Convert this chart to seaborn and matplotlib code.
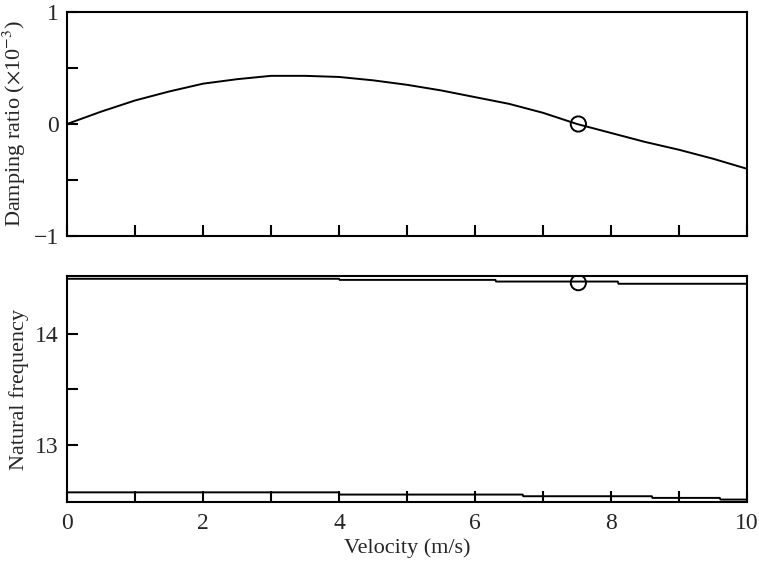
import matplotlib
matplotlib.use("Agg")
import matplotlib.pyplot as plt
import seaborn as sns
import numpy as np
import pandas as pd

# Top panel: damping ratio (x1e-3) vs velocity
vel_damp = [0, 0.5, 1, 1.5, 2, 2.5, 3, 3.5, 4, 4.5, 5, 5.5, 6, 6.5, 7, 7.5, 8, 8.5, 9, 9.5, 10]
damping = [0, 0.11, 0.21, 0.29, 0.36, 0.40, 0.43, 0.43, 0.42, 0.39, 0.35, 0.30,
           0.24, 0.18, 0.10, 0.0, -0.08, -0.16, -0.23, -0.31, -0.40]

# Bottom panel: natural frequencies vs velocity
vel_freq = [0, 4.0, 4.01, 6.3, 6.31, 8.1, 8.11, 10]
freq_upper = [14.495, 14.495, 14.485, 14.485, 14.47, 14.47, 14.45, 14.45]
vel_freq_low = [0, 4.0, 4.01, 6.7, 6.71, 8.6, 8.61, 9.6, 9.61, 10]
freq_lower = [12.57, 12.57, 12.55, 12.55, 12.535, 12.535, 12.52, 12.52, 12.505, 12.505]

# Flutter points (circles)
flutter_v = [7.52]
flutter_damp = [0.0]
flutter_freq = [14.46]

sns.set_style("ticks")
plt.rcParams["font.family"] = ["Liberation Serif", "DejaVu Serif"]
plt.rcParams["mathtext.fontset"] = "stix"
plt.rcParams["axes.linewidth"] = 1.5

fig = plt.figure(figsize=(7.59, 5.61), dpi=100)
W, H = 759, 561
ax1 = fig.add_axes([67 / W, 1 - 236 / H, 680 / W, 224 / H])
ax2 = fig.add_axes([67 / W, 1 - 502 / H, 680 / W, 226 / H])

df1 = pd.DataFrame({"v": vel_damp, "d": damping})
sns.lineplot(data=df1, x="v", y="d", ax=ax1, color="black", lw=1.4)
sns.scatterplot(x=flutter_v, y=flutter_damp, ax=ax1, s=120, facecolor="none",
                edgecolor="black", linewidth=1.4, zorder=5)

df2 = pd.DataFrame({"v": vel_freq, "f": freq_upper})
df3 = pd.DataFrame({"v": vel_freq_low, "f": freq_lower})
sns.lineplot(data=df2, x="v", y="f", ax=ax2, color="black", lw=1.4)
sns.lineplot(data=df3, x="v", y="f", ax=ax2, color="black", lw=1.4)
sns.scatterplot(x=flutter_v, y=flutter_freq, ax=ax2, s=120, facecolor="none",
                edgecolor="black", linewidth=1.4, zorder=5)

for ax in (ax1, ax2):
    ax.set_xlim(0, 10)
    ax.set_xticks([0, 2, 4, 6, 8, 10])
    ax.set_xticks([1, 3, 5, 7, 9], minor=True)
    ax.tick_params(axis="both", which="both", direction="in", length=8, width=1.5,
                   labelsize=17, color="black")
    ax.tick_params(axis="x", which="both", pad=8)
    ax.tick_params(axis="y", which="both", pad=6)
    ax.tick_params(axis="both", which="both", top=False, right=False)
    for s in ax.spines.values():
        s.set_visible(True)
        s.set_color("black")
        s.set_linewidth(1.5)

ax1.set_ylim(-1, 1)
ax1.set_yticks([-1, 0, 1])
ax1.set_yticklabels(["\u22121", "0", "1"])
ax1.set_yticks([-0.5, 0.5], minor=True)
ax1.tick_params(axis="x", labelbottom=False)
ax1.set_xlabel("")
ax1.set_ylabel(r"Damping ratio ($\times$10$^{-3}$)", fontsize=16)

ax2.set_ylim(12.483, 14.52)
ax2.set_yticks([13, 14])
ax2.set_yticks([13.5], minor=True)
ax2.set_xlabel("Velocity (m/s)", fontsize=16, labelpad=3)
ax2.set_ylabel("Natural frequency", fontsize=16)

fig.align_ylabels([ax1, ax2])
fig.savefig("out.png", dpi=100)
